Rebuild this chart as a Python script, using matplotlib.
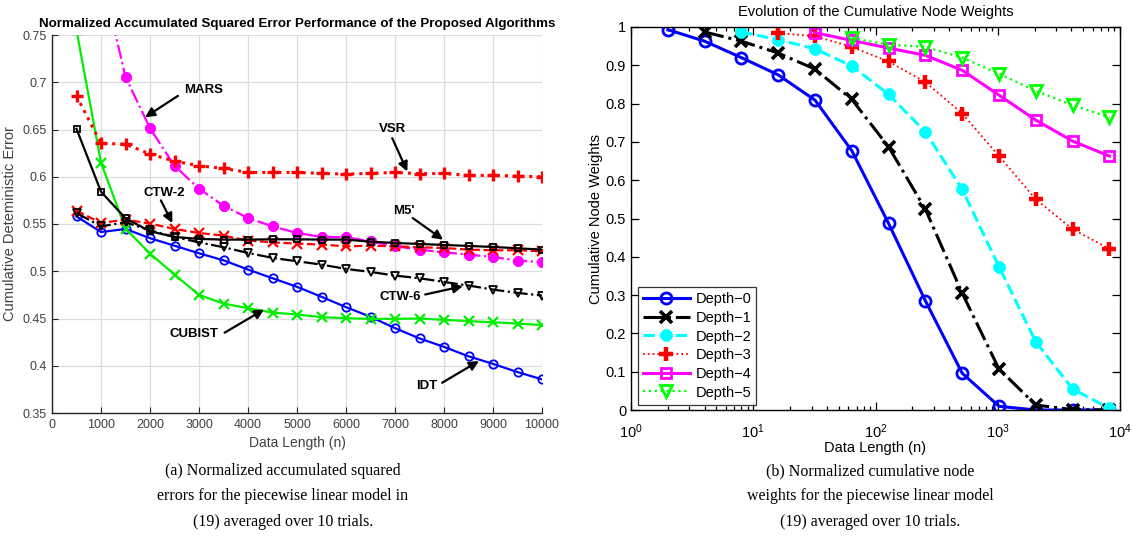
import numpy as np
import matplotlib
matplotlib.use("Agg")
import matplotlib.pyplot as plt
from matplotlib.ticker import NullFormatter, LogLocator

# ---------------- data: left panel ----------------
n_len = [500, 1000, 1500, 2000, 2500, 3000, 3500, 4000, 4500, 5000,
         5500, 6000, 6500, 7000, 7500, 8000, 8500, 9000, 9500, 10000]

idt = [0.558, 0.5415, 0.5447, 0.535, 0.527, 0.519, 0.5116, 0.5018, 0.4926, 0.4835,
       0.473, 0.462, 0.4518, 0.4398, 0.4289, 0.420, 0.410, 0.402, 0.3933, 0.3856]
cubist = [0.755, 0.615, 0.545, 0.5187, 0.4965, 0.475, 0.4658, 0.4609, 0.4563, 0.4542,
          0.4514, 0.4503, 0.4496, 0.4496, 0.450, 0.4486, 0.4472, 0.446, 0.4447, 0.443]
mars_len = n_len[1:]
mars = [0.816, 0.7056, 0.6514, 0.6116, 0.5873, 0.5694, 0.5563, 0.5475, 0.5405,
        0.5363, 0.536, 0.5317, 0.5264, 0.5229, 0.520, 0.5176, 0.5151, 0.5113, 0.5095]
vsr = [0.6856, 0.6352, 0.6345, 0.624, 0.6165, 0.6116, 0.6088, 0.6046, 0.6046, 0.6046,
       0.6035, 0.6028, 0.6035, 0.6046, 0.6032, 0.6035, 0.6014, 0.6014, 0.6007, 0.600]
m5 = [0.6507, 0.5842, 0.556, 0.5423, 0.5363, 0.5342, 0.5335, 0.5335, 0.5338, 0.5338,
      0.5335, 0.5335, 0.5313, 0.5299, 0.5289, 0.5278, 0.5268, 0.5257, 0.5243, 0.5229]
ctw2 = [0.5641, 0.5511, 0.5546, 0.5504, 0.5447, 0.5405, 0.5377, 0.5324, 0.5306, 0.5292,
        0.5282, 0.5264, 0.527, 0.5264, 0.5254, 0.5246, 0.5229, 0.5222, 0.5222, 0.5211]
ctw6 = [0.5616, 0.5475, 0.5518, 0.5433, 0.5363, 0.5306, 0.5254, 0.5194, 0.5141, 0.5106,
        0.507, 0.5025, 0.4993, 0.4954, 0.4926, 0.4887, 0.4849, 0.4806, 0.4771, 0.4743]

left_xticks = [0, 1000, 2000, 3000, 4000, 5000, 6000, 7000, 8000, 9000, 10000]
left_yticks = [0.35, 0.4, 0.45, 0.5, 0.55, 0.6, 0.65, 0.7, 0.75]
left_yticklabels = ["0.35", "0.4", "0.45", "0.5", "0.55", "0.6", "0.65", "0.7", "0.75"]

# annotations: (label, text_xy, arrow_tail_xy, arrow_tip_xy)
annotations = [
    ("MARS", (3100, 0.692), (2570, 0.6856), (1900, 0.663)),
    ("VSR", (6944, 0.6507), (6944, 0.6408), (7251, 0.6056)),
    ("CTW-2", (2295, 0.5827), (2222, 0.575), (2456, 0.551)),
    ("M5'", (7178, 0.5641), (7361, 0.5563), (7982, 0.5334)),
    ("CTW-6", (7105, 0.4729), (7617, 0.4754), (8385, 0.4842)),
    ("CUBIST", (2902, 0.4331), (3523, 0.435), (4327, 0.4595)),
    ("IDT", (7653, 0.3785), (7961, 0.382), (8713, 0.405)),
]

# ---------------- data: right panel ----------------
depth_n = [2, 4, 8, 16, 32, 64, 128, 256, 512, 1024, 2048, 4096, 8192]
depth0 = [0.993, 0.963, 0.92, 0.875, 0.809, 0.677, 0.487, 0.285, 0.096, 0.0096, 0.0, 0.0, 0.0]
depth1 = [0.987, 0.963, 0.932, 0.89, 0.811, 0.687, 0.524, 0.305, 0.107, 0.013, 0.001, 0.0]
depth2 = [0.987, 0.967, 0.943, 0.898, 0.824, 0.726, 0.576, 0.374, 0.178, 0.055, 0.004]
depth3 = [0.984, 0.976, 0.948, 0.91, 0.856, 0.774, 0.663, 0.55, 0.472, 0.421]
depth4 = [0.985, 0.965, 0.945, 0.926, 0.887, 0.822, 0.757, 0.702, 0.663]
depth5 = [0.971, 0.954, 0.948, 0.92, 0.878, 0.833, 0.796, 0.764]
depth_labels = ["Depth\u22120", "Depth\u22121", "Depth\u22122", "Depth\u22123", "Depth\u22124", "Depth\u22125"]

right_yticks = [0, 0.1, 0.2, 0.3, 0.4, 0.5, 0.6, 0.7, 0.8, 0.9, 1]
right_yticklabels = ["0", "0.1", "0.2", "0.3", "0.4", "0.5", "0.6", "0.7", "0.8", "0.9", "1"]

# ---------------- figure ----------------
W, H = 1133, 542
fig = plt.figure(figsize=(W / 100, H / 100), dpi=100)
plt.rcParams['font.family'] = ['Liberation Sans', 'DejaVu Sans']


def px_axes(x0, y0, x1, y1):
    return fig.add_axes([x0 / W, 1 - y1 / H, (x1 - x0) / W, (y1 - y0) / H])


gray = '#404040'
# ---- left ----
ax = px_axes(52, 35, 542, 413)
ax.set_xlim(0, 10000)
ax.set_ylim(0.35, 0.75)
ax.set_xticks(left_xticks)
ax.set_xticklabels([str(v) for v in left_xticks])
ax.set_yticks(left_yticks)
ax.set_yticklabels(left_yticklabels)
ax.grid(True, color='#dcdcdc', linewidth=0.9)
ax.set_axisbelow(True)
for s in ['top', 'right']:
    ax.spines[s].set_visible(False)
for s in ['left', 'bottom']:
    ax.spines[s].set_color('#262626')
    ax.spines[s].set_linewidth(1.0)
ax.tick_params(direction='in', length=4, width=0.8, color='#262626', labelsize=9,
               labelcolor=gray, pad=4)

lw = 1.6
ax.plot(n_len, idt, '-', color='#0000ff', lw=lw, marker='o', ms=6, mfc='none', mew=1.3)
ax.plot(n_len, cubist, '-', color='#00ee00', lw=lw, marker='x', ms=6.5, mew=1.6)
ax.plot(mars_len, mars, '-.', color='#ff00ff', lw=lw, marker=(8, 2, 0), ms=7.5, mew=2.6)
ax.plot(n_len, vsr, ':', color='#ff0000', lw=2.2, marker='+', ms=8, mew=2.4)
ax.plot(n_len, ctw2, '--', color='#ff0000', lw=lw, marker='x', ms=6.5, mew=1.6)
ax.plot(n_len, ctw6, '-.', color='black', lw=lw, marker='v', ms=6, mfc='none', mew=1.3)
ax.plot(n_len, m5, '-', color='black', lw=lw, marker='s', ms=5, mfc='none', mew=1.3)

for lab, txy, tail, tip in annotations:
    ax.text(txy[0], txy[1], lab, fontsize=9.5, fontweight='bold', ha='center', va='center')
    ax.annotate('', xy=tip, xytext=tail,
                arrowprops=dict(arrowstyle='-|>', color='black', lw=1.6,
                                mutation_scale=14, shrinkA=0, shrinkB=0))

ax.set_title("Normalized Accumulated Squared Error Performance of the Proposed Algorithms",
             fontsize=9.6, fontweight='bold', pad=6)
ax.set_xlabel("Data Length (n)", fontsize=10, color=gray, labelpad=4)
ax.set_ylabel("Cumulative Deteministic Error", fontsize=10.5, color=gray, labelpad=4)

# ---- right ----
bx = px_axes(631, 27, 1120, 410)
bx.set_xscale('log')
bx.set_xlim(1, 1e4)
bx.set_ylim(0, 1)
bx.set_yticks(right_yticks)
bx.set_yticklabels(right_yticklabels)
bx.xaxis.set_major_locator(LogLocator(base=10, numticks=10))
bx.xaxis.set_minor_locator(LogLocator(base=10, subs=np.arange(2, 10), numticks=20))
bx.xaxis.set_minor_formatter(NullFormatter())
bx.tick_params(which='both', direction='in', top=True, right=True, labelsize=10.5,
               colors='black', width=0.9)
bx.tick_params(axis='x', which='major', pad=9)
bx.tick_params(which='major', length=6)
bx.tick_params(which='minor', length=3)
for s in bx.spines.values():
    s.set_linewidth(1.0)

rlw = 2.2
mk = dict(ms=8, mew=2.0)
bx.plot(depth_n[:len(depth0)], depth0, '-', color='#0000ff', lw=rlw, marker='o', mfc='none',
        label=depth_labels[0], **mk)
bx.plot(depth_n[1:1 + len(depth1)], depth1, '-.', color='black', lw=rlw, marker='x',
        label=depth_labels[1], ms=8.5, mew=2.6)
bx.plot(depth_n[2:2 + len(depth2)], depth2, '--', color='#00ffff', lw=rlw, marker=(8, 2, 0),
        label=depth_labels[2], ms=8.5, mew=3.2)
bx.plot(depth_n[3:3 + len(depth3)], depth3, ':', color='#ff0000', lw=1.3, marker='+',
        label=depth_labels[3], ms=10, mew=3.2)
bx.plot(depth_n[4:4 + len(depth4)], depth4, '-', color='#ff00ff', lw=rlw, marker='s', mfc='none',
        label=depth_labels[4], ms=7.5, mew=2.0)
bx.plot(depth_n[5:5 + len(depth5)], depth5, ':', color='#00ff00', lw=1.6, marker='v', mfc='none',
        label=depth_labels[5], **mk)

leg = bx.legend(loc='lower left', bbox_to_anchor=(0.014, 0.014), fontsize=10.5,
                frameon=True, fancybox=False, edgecolor='black', borderpad=0.35,
                labelspacing=0.32, handlelength=3.2, handletextpad=0.4, borderaxespad=0)
leg.get_frame().set_linewidth(0.9)

bx.set_title("Evolution of the Cumulative Node Weights", fontsize=10.5, pad=8)
bx.set_xlabel("Data Length (n)", fontsize=10.5, labelpad=0)
bx.set_ylabel("Cumulative Node Weights", fontsize=10.5, labelpad=2)

# ---- captions ----
cap_kw = dict(fontsize=11.5, family=['Liberation Serif', 'DejaVu Serif'], ha='center',
              va='center')
cap_a = ["(a) Normalized accumulated squared",
         "errors for the piecewise linear model in",
         "(19) averaged over 10 trials."]
cap_b = ["(b) Normalized cumulative node",
         "weights for the piecewise linear model",
         "(19) averaged over 10 trials."]
for i, (la, lb) in enumerate(zip(cap_a, cap_b)):
    yy = 1 - (471 + 25.5 * i) / H
    fig.text(283 / W, yy, la, **cap_kw)
    fig.text(870 / W, yy, lb, **cap_kw)

fig.savefig("out.png", dpi=100)
